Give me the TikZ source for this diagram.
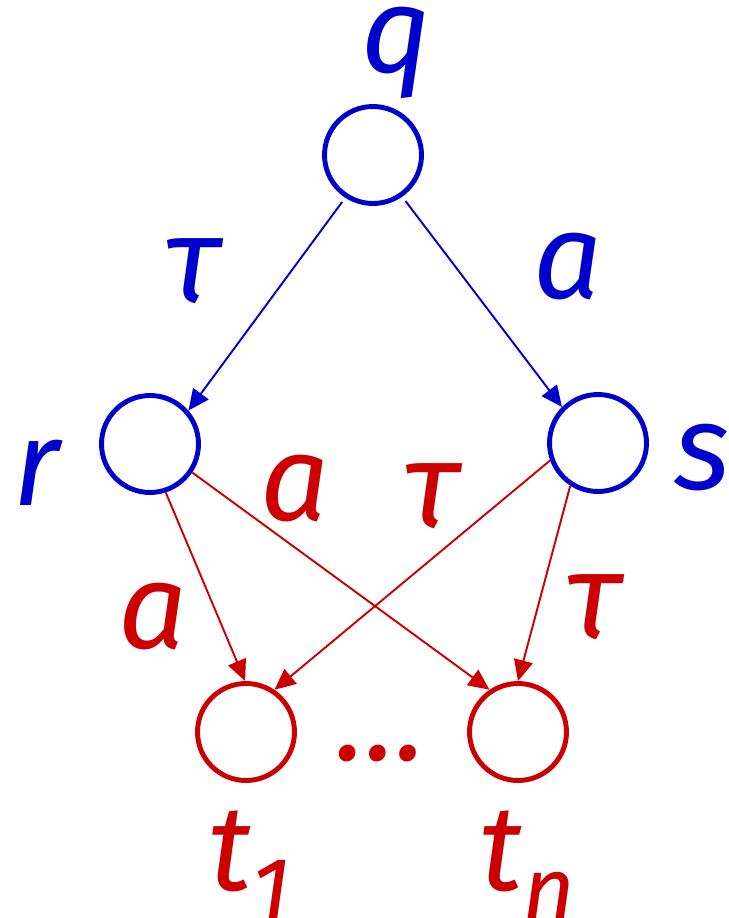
\documentclass[tikz,border=0pt]{standalone}
\usepackage{fontspec}
\setmainfont{Fira Sans}
\usetikzlibrary{arrows.meta}
\definecolor{qblue}{RGB}{0,0,204}
\definecolor{tred}{RGB}{204,0,0}
\tikzset{
    lts diagram/.style = {>={Triangle[length=0.42cm, width=0.38cm]}},
    state/.style       = {draw, circle, line width=2.8pt, inner sep=0pt,
                          minimum size=1.94cm},
    trans/.style       = {->, line width=1.1pt},
    lbl/.style         = {font=\itshape\fontsize{69}{69}\selectfont,
                          inner sep=0pt, anchor=mid},
    sublbl/.style      = {lbl, anchor=base west}
}

\begin{document}
\begin{tikzpicture}[lts diagram]

\useasboundingbox (0,0) rectangle (14.58,-18.36);

\node[state, qblue] (q)  at (7.46,-3.10)  {};
\node[state, qblue] (r)  at (3.00,-8.88)  {};
\node[state, qblue] (s)  at (11.96,-8.86) {};
\node[state, tred]  (t1) at (4.92,-14.64) {};
\node[state, tred]  (tn) at (10.36,-14.64) {};

\node[lbl, qblue] (qname) at (7.92,-1.36)  {q};
\node[lbl, qblue] (rname) at (0.74,-10.02) {r};
\node[lbl, qblue] (sname) at (14.04,-9.70) {s};
\node[sublbl, tred] (t1name) at (4.16,-17.80)
    {t\raisebox{-0.5ex}{\fontsize{52}{52}\selectfont 1}};
\node[sublbl, tred] (tnname) at (9.58,-17.80)
    {t\raisebox{-0.5ex}{\fontsize{52}{52}\selectfont n}};
\node[lbl, tred, anchor=base] (dots) at (7.62,-15.20) {…};

% tau and a steps
\draw[trans, qblue, shorten <=3pt] (q.-123) -- (r.41);
\draw[trans, qblue, shorten <=3pt] (q.-55)  -- (s.135);
\draw[trans, tred] (r.-72)  -- (t1.91);
\draw[trans, tred] (r.-34)  -- (tn.124);
\draw[trans, tred] (s.-160) -- (t1.56);
\draw[trans, tred] (s.-123) -- (tn.90);

\node[lbl, qblue] (qr)  at (3.86,-5.96)  {τ};
\node[lbl, qblue] (qs)  at (11.36,-5.88) {a};
\node[lbl, tred]  (rtn) at (5.90,-10.32) {a};
\node[lbl, tred]  (st1) at (8.64,-10.46) {τ};
\node[lbl, tred]  (rt1) at (3.06,-12.88) {a};
\node[lbl, tred]  (stn) at (11.88,-12.68) {τ};

\end{tikzpicture}
\end{document}
